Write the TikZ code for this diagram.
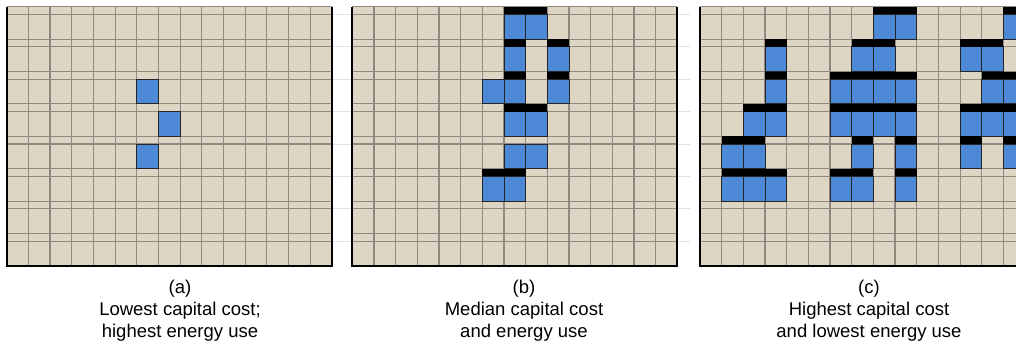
\documentclass[tikz,border=0pt]{standalone}
\usepackage{fontspec}
\setmainfont{Liberation Sans}
\usetikzlibrary{positioning}

\definecolor{sand}{RGB}{222,214,197}
\definecolor{gridc}{RGB}{146,138,128}
\definecolor{tileblue}{RGB}{78,137,216}

% panel geometry, in px
\newcommand{\cw}{21.67}
\newcommand{\rh}{32.4}
\newcommand{\sh}{7.7}

\newcommand{\gridpanel}{%
  \fill[sand] (0,0) rectangle (325,259.2);
  \foreach \i in {1,...,14} \draw[gl] (\i*\cw,0) -- (\i*\cw,259.2);
  \foreach \k in {1,...,7} \draw[gl] (0,\k*\rh) -- (325,\k*\rh);
  \foreach \k in {0,...,7} \draw[gl] (0,\k*\rh+\sh) -- (325,\k*\rh+\sh);
  \draw[gl] (0,0) -- (325,0);
}
\newcommand{\panelframe}{\draw[frame] (0,0) -- (0,259.2) -- (325,259.2) -- (325,0);}
\newcommand{\tiles}[1]{\foreach \cx/\ry in {#1}
  \filldraw[tilebox] (\cx*\cw,\ry*\rh+\sh) rectangle ++(\cw,\rh-\sh);}
\newcommand{\bars}[1]{\foreach \ca/\cb/\ry in {#1}
  \fill[hx] (\ca*\cw,\ry*\rh) rectangle (\cb*\cw+\cw,\ry*\rh+\sh);}

\begin{document}
\begin{tikzpicture}[
  x=1pt, y=-1pt,
  gl/.style={draw=gridc, line width=1.1pt},
  frame/.style={draw=black, line width=1.8pt},
  tilebox/.style={fill=tileblue, draw=black!85, line width=0.9pt},
  hx/.style={fill=black},
  faint/.style={draw=black!12, line width=0.8pt},
  lbl/.style={align=center, anchor=north, inner sep=0pt,
              font=\fontsize{18.5}{22}\selectfont},
]
\fill[white] (0,0) rectangle (1016,349);
\useasboundingbox (0,0) rectangle (1016,349);
\clip (0,0) rectangle (1016,349);

% faint rules in the gaps
\foreach \k in {0,...,7} {
  \draw[faint] (332,6.7+\k*\rh+\sh) -- (352,6.7+\k*\rh+\sh);
  \draw[faint] (678,6.7+\k*\rh+\sh) -- (690,6.7+\k*\rh+\sh);
}

% (a)
\begin{scope}[shift={(6.7,6.7)}]
  \gridpanel
  \tiles{6/2,7/3,6/4}
  \panelframe
\end{scope}
\node[lbl] (capa) at (180,280) {(a)\\Lowest capital cost;\\highest energy use};

% (b)
\begin{scope}[shift={(352.3,6.7)}]
  \gridpanel
  \tiles{7/0,8/0, 7/1,9/1, 6/2,7/2,9/2, 7/3,8/3, 7/4,8/4, 6/5,7/5}
  \bars{7/8/0, 7/7/1, 9/9/1, 7/7/2, 9/9/2, 7/8/3, 6/7/5}
  \panelframe
\end{scope}
\node[lbl] (capb) at (524,280) {(b)\\Median capital cost\\and energy use};

% (c)
\begin{scope}[shift={(700,6.7)}]
  \gridpanel
  \tiles{8/0,9/0,14/0,
         3/1,7/1,8/1,12/1,13/1,
         3/2,6/2,7/2,8/2,9/2,13/2,14/2,
         2/3,3/3,6/3,7/3,8/3,9/3,12/3,13/3,14/3,
         1/4,2/4,7/4,9/4,12/4,14/4,
         1/5,2/5,3/5,6/5,7/5,9/5}
  \bars{8/9/0, 14/14/0,
        3/3/1, 7/8/1, 12/13/1,
        3/3/2, 6/9/2, 13/14/2,
        2/3/3, 6/9/3, 12/14/3,
        1/2/4, 7/7/4, 9/9/4, 12/12/4, 14/14/4,
        1/3/5, 6/7/5, 9/9/5}
  \panelframe
\end{scope}
\node[lbl] (capc) at (869,280) {(c)\\Highest capital cost\\and lowest energy use};
\end{tikzpicture}
\end{document}
